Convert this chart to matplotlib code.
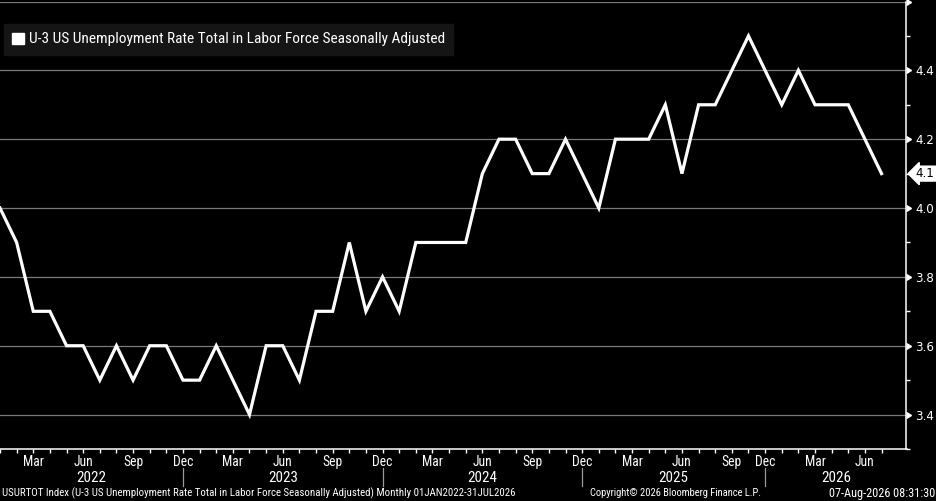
import numpy as np
import pandas as pd
import matplotlib
matplotlib.use("Agg")
import matplotlib.pyplot as plt
from matplotlib import font_manager
from matplotlib.patches import Patch
from matplotlib.transforms import blended_transform_factory

# monthly U-3 rate, Jan 2022 - Jul 2026 (no Oct 2025 print)
months = [p for p in pd.period_range("2022-01", "2026-07", freq="M") if str(p) != "2025-10"]
rate = [4.0, 3.9, 3.7, 3.7, 3.6, 3.6, 3.5, 3.6, 3.5, 3.6, 3.6, 3.5,
        3.5, 3.6, 3.5, 3.4, 3.6, 3.6, 3.5, 3.7, 3.7, 3.9, 3.7, 3.8,
        3.7, 3.9, 3.9, 3.9, 3.9, 4.1, 4.2, 4.2, 4.1, 4.1, 4.2, 4.1,
        4.0, 4.2, 4.2, 4.2, 4.3, 4.1, 4.3, 4.3, 4.4, 4.5, 4.4,
        4.3, 4.4, 4.3, 4.3, 4.3, 4.2, 4.1]
yticks = [3.4, 3.6, 3.8, 4.0, 4.2, 4.4, 4.6]
yminor = [3.3, 3.5, 3.7, 3.9, 4.1, 4.3, 4.5]
label_months = {3: "Mar", 6: "Jun", 9: "Sep", 12: "Dec"}
series_name = "U-3 US Unemployment Rate Total in Labor Force Seasonally Adjusted"
footer_left = "USURTOT Index (U-3 US Unemployment Rate Total in Labor Force Seasonally Adjusted) Monthly 01JAN2022-31JUL2026"
footer_mid = "Copyright\u00a9 2026 Bloomberg Finance L.P."
footer_right = "07-Aug-2026 08:31:30"

# narrowest font we can get
names = {f.name for f in font_manager.fontManager.ttflist}
narrow = "DejaVu Sans"
for cand in ["Liberation Sans Narrow", "Roboto Condensed", "Liberation Sans"]:
    if cand in names:
        narrow = cand
        break

W, H = 937, 501
fig = plt.figure(figsize=(W / 100, H / 100), dpi=100, facecolor="black")
ax = fig.add_axes([0, 1 - 449 / H, 906.5 / W, 447.5 / H])
ax.set_facecolor("black")

x = np.arange(len(rate))
ax.plot(x, rate, color="white", lw=2.3, solid_joinstyle="miter", zorder=3)

ax.set_xlim(0, 54.5)
ax.set_ylim(3.3, 4.6)

for s in ["left", "top"]:
    ax.spines[s].set_visible(False)
for s in ["right", "bottom"]:
    ax.spines[s].set_color("white")
    ax.spines[s].set_linewidth(1.1)

# y axis on right
ax.yaxis.tick_right()
ax.set_yticks(yticks)
ax.set_yticks(yminor, minor=True)
ax.set_yticklabels([f"{v:.1f}" if v < 4.55 else "" for v in yticks])
ax.tick_params(axis="y", which="major", length=0, pad=6.5, labelsize=8.6, labelcolor="white")
ax.tick_params(axis="y", which="minor", length=3, width=1, color="white", direction="out")
ax.grid(axis="y", which="major", color="#7a7a7a", lw=0.9)
ax.set_axisbelow(True)
tr = blended_transform_factory(ax.transAxes, ax.transData)
ax.plot([1.0] * len(yticks), yticks, ls="none", marker=9, ms=5, color="white",
        transform=tr, clip_on=False, zorder=4)

# x axis: tick every month, labels on quarter months
ax.set_xticks(x, minor=True)
ax.set_xticks([])
ax.tick_params(axis="x", which="minor", length=3, width=1, color="white", direction="out")
ax.tick_params(axis="x", which="major", length=0)
xt = blended_transform_factory(ax.transData, fig.transFigure)
dec_pos = []
for i, p in enumerate(months):
    if p.month in label_months:
        ax.text(i, 1 - 462 / H, label_months[p.month], transform=xt, ha="center", va="center",
                color="white", fontsize=9.8, family=narrow)
    if p.month == 12:
        dec_pos.append(i)
edges = [0] + dec_pos + [54.5]
years = sorted({p.year for p in months})
for k, yr in enumerate(years):
    ax.text((edges[k] + edges[k + 1]) / 2, 1 - 477.5 / H, str(yr), transform=xt, ha="center",
            va="center", color="white", fontsize=10.8, family=narrow)
for d in dec_pos:
    ax.plot([d, d], [1 - 468 / H, 1 - 486 / H], transform=xt, color="#9a9a9a", lw=0.9, clip_on=False)

# last value tag
ax.annotate(f"{rate[-1]:.1f}", xy=(1.0, rate[-1]), xycoords=tr, xytext=(13.5, 0),
            textcoords="offset points", ha="center", va="center", fontsize=8.6, color="black",
            bbox=dict(boxstyle="larrow,pad=0.08", fc="white", ec="white"), annotation_clip=False)

# legend
leg = ax.legend(handles=[Patch(facecolor="white", edgecolor="white")], labels=[series_name],
                loc="upper left", bbox_to_anchor=(4 / W, 1 - 24 / H), bbox_transform=fig.transFigure,
                borderaxespad=0, frameon=True, fancybox=False, facecolor="#151515", edgecolor="#151515",
                framealpha=1, handlelength=0.75, handleheight=0.75, handletextpad=0.35,
                borderpad=0.55, prop=dict(size=10.8, family=narrow))
for t in leg.get_texts():
    t.set_color("white")

# footer
f1 = fig.text(2 / W, 1 - 493 / H, footer_left, color="white", fontsize=8, ha="left", va="center", family=narrow)
f2 = fig.text(590 / W, 1 - 493 / H, footer_mid, color="white", fontsize=8, ha="left", va="center", family=narrow)
f3 = fig.text(935 / W, 1 - 493 / H, footer_right, color="white", fontsize=8, ha="right", va="center", family=narrow)

# fit text widths to the layout
fig.canvas.draw()
r = fig.canvas.get_renderer()
base = f1.get_fontsize() * 516 / f1.get_window_extent(r).width
for t, w in [(f1, 516), (f2, 173), (f3, 126)]:
    cur = t.get_window_extent(r).width
    t.set_fontsize(min(t.get_fontsize() * w / cur, base * 1.12))
lt = leg.get_texts()[0]
cur = lt.get_window_extent(r).width
lt.set_fontsize(lt.get_fontsize() * 419 / cur)

fig.savefig("out.png", dpi=100, facecolor="black")
